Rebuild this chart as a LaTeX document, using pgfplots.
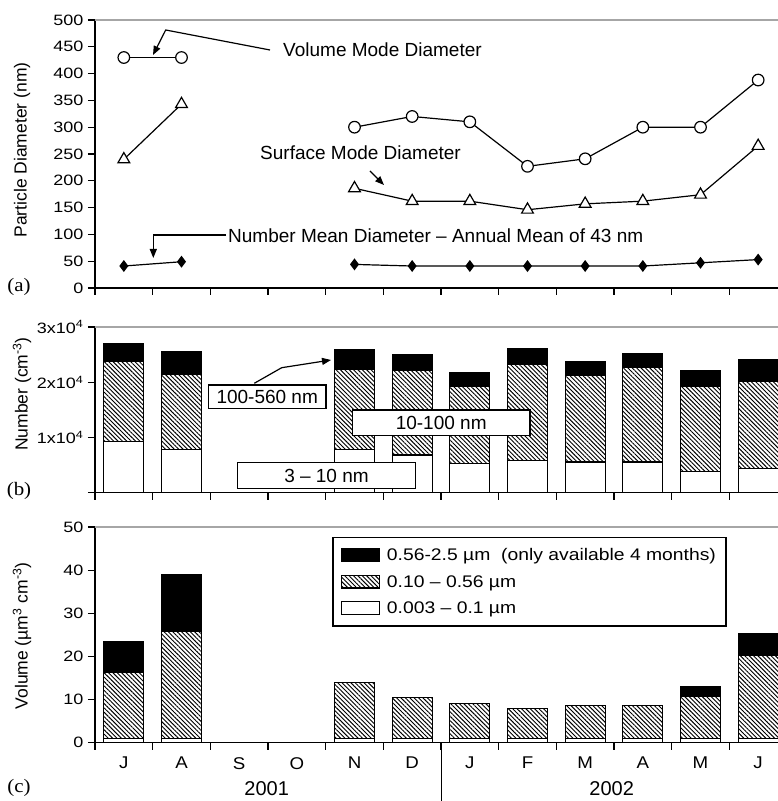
\documentclass[border=0pt]{standalone}
\usepackage{pgfplots}
\pgfplotsset{compat=1.18}
\usetikzlibrary{patterns,patterns.meta,arrows.meta}
\usepackage{fontspec}
\setmainfont{Liberation Sans}
\newfontfamily\tickfont{Liberation Sans}[FakeStretch=1.2]
\newfontfamily\legfont{Liberation Sans}[FakeStretch=1.15]
\newfontfamily\monthfont{Liberation Sans}[FakeStretch=1.1]
\newfontfamily\seriffont{Liberation Serif}[FakeStretch=1.1]

\newcommand\annfont{\fontsize{19}{21}\selectfont}
\newcommand\tfont{\tickfont\fontsize{15}{17}\selectfont}

\pgfplotsset{
  panel/.style={
    scale only axis, width=692pt,
    xmin=0, xmax=12,
    axis x line*=bottom, axis y line*=left,
    axis line style={line width=1.2pt, black},
    tick style={line width=1.2pt, black},
    tick align=outside,
    major tick length=7pt,
    /pgf/number format/assume math mode=true,
    tick label style={font=\tfont},
    yticklabel style={xshift=-1pt},
    clip=false,
    xtick={0,...,12}, xticklabels={},
  },
  hatch/.style={pattern={Lines[angle=-45,distance=3.1pt,line width=0.95pt]}, pattern color=black, draw=black, line width=1.2pt},
  whitebar/.style={fill=white, draw=black, line width=1.2pt},
  blackbar/.style={fill=black, draw=black, line width=1.2pt},
  ser/.style={black, line width=1.2pt},
}

\begin{document}
\begin{tikzpicture}
\useasboundingbox (0pt,0pt) rectangle (778pt,801pt);

% ---------------- Panel (a)
\begin{axis}[panel, at={(95pt,513pt)}, anchor=south west, height=268pt,
  ymin=0, ymax=500, ytick={0,50,...,500}]
\draw[gray!70, line width=1.2pt] (rel axis cs:0,1) -- (rel axis cs:1,1);
% Volume mode diameter
\addplot[ser, mark=*, mark size=5.8pt, mark options={fill=white, draw=black, line width=1.2pt}]
  coordinates {(0.5,430) (1.5,430)};
\addplot[ser, mark=*, mark size=5.8pt, mark options={fill=white, draw=black, line width=1.2pt}]
  coordinates {(4.5,300) (5.5,320) (6.5,310) (7.5,227) (8.5,241) (9.5,300) (10.5,300) (11.5,388)};
% Surface mode diameter
\addplot[ser, mark=triangle*, mark size=6.8pt, mark options={fill=white, draw=black, line width=1.2pt}]
  coordinates {(0.5,240) (1.5,343)};
\addplot[ser, mark=triangle*, mark size=6.8pt, mark options={fill=white, draw=black, line width=1.2pt}]
  coordinates {(4.5,186) (5.5,162) (6.5,162) (7.5,146) (8.5,157) (9.5,162) (10.5,174) (11.5,265)};
% Number mean diameter
\addplot[ser, mark=diamond*, mark size=5pt, mark options={fill=black, draw=black}]
  coordinates {(0.5,41) (1.5,49)};
\addplot[ser, mark=diamond*, mark size=5pt, mark options={fill=black, draw=black}]
  coordinates {(4.5,44) (5.5,41) (6.5,41) (7.5,41) (8.5,41) (9.5,41) (10.5,47) (11.5,53)};
\end{axis}

% ---------------- Panel (b)
\begin{axis}[panel, at={(95pt,308.3pt)}, anchor=south west, height=165.7pt,
  ymin=0, ymax=30000, ybar stacked, bar width=40pt,
  scaled y ticks=false, ytick={0,10000,20000,30000},
  yticklabels={,1x10\textsuperscript{4},2x10\textsuperscript{4},3x10\textsuperscript{4}}]
\draw[gray!70, line width=1.2pt] (rel axis cs:0,1) -- (rel axis cs:1,1);
\addplot[whitebar] coordinates {(0.5,9240) (1.5,7860) (4.5,7860) (5.5,6830) (6.5,5330) (7.5,5800) (8.5,5560) (9.5,5560) (10.5,3800) (11.5,4420)};
\addplot[hatch] coordinates {(0.5,14620) (1.5,13640) (4.5,14540) (5.5,15340) (6.5,13870) (7.5,17460) (8.5,15760) (9.5,17080) (10.5,15400) (11.5,15690)};
\addplot[blackbar] coordinates {(0.5,3210) (1.5,4040) (4.5,3450) (5.5,2780) (6.5,2610) (7.5,2770) (8.5,2410) (9.5,2610) (10.5,2850) (11.5,3930)};
\end{axis}

% ---------------- Panel (c)
\begin{axis}[panel, at={(95pt,58.3pt)}, anchor=south west, height=215.7pt,
  ymin=0, ymax=50, ytick={0,10,...,50}, ybar stacked, bar width=40pt,
  extra x ticks={0.5,1.5,...,11.5},
  extra x tick labels={J,A,S,O,N,D,J,F,M,A,M,J},
  extra x tick style={major tick length=0pt, tick label style={font=\monthfont\fontsize{17}{19}\selectfont, yshift=-11pt}},
  reverse legend,
  legend cell align=left,
  legend image code/.code={\draw[#1] (0pt,-6pt) rectangle (38pt,6.5pt);},
  legend style={at={(0.3425,0.954)}, anchor=north west, draw=black, line width=1.5pt,
    font=\legfont\fontsize{16.8}{18}\selectfont, inner xsep=8pt, inner ysep=9pt,
    row sep=9pt, column sep=5pt}]
\draw[gray!70, line width=1.2pt] (rel axis cs:0,1) -- (rel axis cs:1,1);
\addplot[whitebar] coordinates {(0.5,1) (1.5,1) (4.5,1) (5.5,1) (6.5,0.9) (7.5,1) (8.5,1) (9.5,1) (10.5,1) (11.5,1)};
\addplot[hatch] coordinates {(0.5,15.2) (1.5,24.7) (4.5,12.9) (5.5,9.5) (6.5,8.2) (7.5,7.0) (8.5,7.7) (9.5,7.7) (10.5,9.7) (11.5,19.2)};
\addplot[blackbar] coordinates {(0.5,7.2) (1.5,13.2) (4.5,0) (5.5,0) (6.5,0) (7.5,0) (8.5,0) (9.5,0) (10.5,2.4) (11.5,5.0)};
\legend{0.003 – 0.1 µm, 0.10 – 0.56 µm, 0.56-2.5 µm\ \ (only available 4 months)}
\end{axis}

% ---------------- Axis titles and panel letters
\node[rotate=90, font=\fontsize{17.5}{20}\selectfont] at (22pt,651pt) {Particle Diameter (nm)};
\node[rotate=90, font=\fontsize{17.5}{20}\selectfont] at (22pt,407pt) {Number (cm\textsuperscript{-3})};
\node[rotate=90, font=\fontsize{17.5}{20}\selectfont] at (22pt,165pt) {Volume (µm\textsuperscript{3} cm\textsuperscript{-3})};
\node[font=\seriffont\fontsize{19}{21}\selectfont] at (19pt,514pt) {(a)};
\node[font=\seriffont\fontsize{19}{21}\selectfont] at (19pt,310pt) {(b)};
\node[font=\seriffont\fontsize{19}{21}\selectfont] at (19pt,13pt) {(c)};
\node[font=\fontsize{20}{22}\selectfont] at (266.7pt,12pt) {2001};
\node[font=\fontsize{20}{22}\selectfont] at (611.7pt,12pt) {2002};
\draw[line width=1.2pt] (441.7pt,58.3pt) -- (441.7pt,0pt);

% ---------------- Annotations panel (a)
\node[anchor=west, inner sep=0pt, font=\annfont] at (283pt,751pt) {Volume Mode Diameter};
\draw[line width=1.2pt, -{Triangle[length=9pt,width=7pt]}] (270pt,751pt) -- (165.7pt,771pt) -- (153pt,746pt);
\node[anchor=west, inner sep=0pt, font=\annfont] at (260pt,648.3pt) {Surface Mode Diameter};
\draw[line width=1.2pt, -{Triangle[length=9pt,width=7pt]}] (370pt,630pt) -- (384pt,616pt);
\node[anchor=west, inner sep=0pt, font=\annfont] at (228pt,565pt) {Number Mean Diameter – Annual Mean of 43 nm};
\draw[line width=1.2pt, -{Triangle[length=9pt,width=7pt]}] (226pt,566pt) -- (153.3pt,566pt) -- (153.3pt,543pt);

% ---------------- Annotations panel (b)
\draw[line width=1.2pt, -{Triangle[length=9pt,width=7pt]}] (254.3pt,417.7pt) -- (281.7pt,433.3pt) -- (331pt,441pt);
\node[draw=black, line width=1.5pt, fill=white, minimum width=117.7pt, minimum height=23.3pt, inner sep=0pt, font=\annfont] at (267.2pt,404.3pt) {100-560 nm};
\node[draw=black, line width=1.5pt, fill=white, minimum width=177.7pt, minimum height=25.7pt, inner sep=0pt, font=\annfont] at (441.2pt,378.2pt) {10-100 nm};
\node[draw=black, line width=1.5pt, fill=white, minimum width=178.4pt, minimum height=25.6pt, inner sep=0pt, font=\annfont] at (326.5pt,325.5pt) {3 – 10 nm};
\end{tikzpicture}
\end{document}
